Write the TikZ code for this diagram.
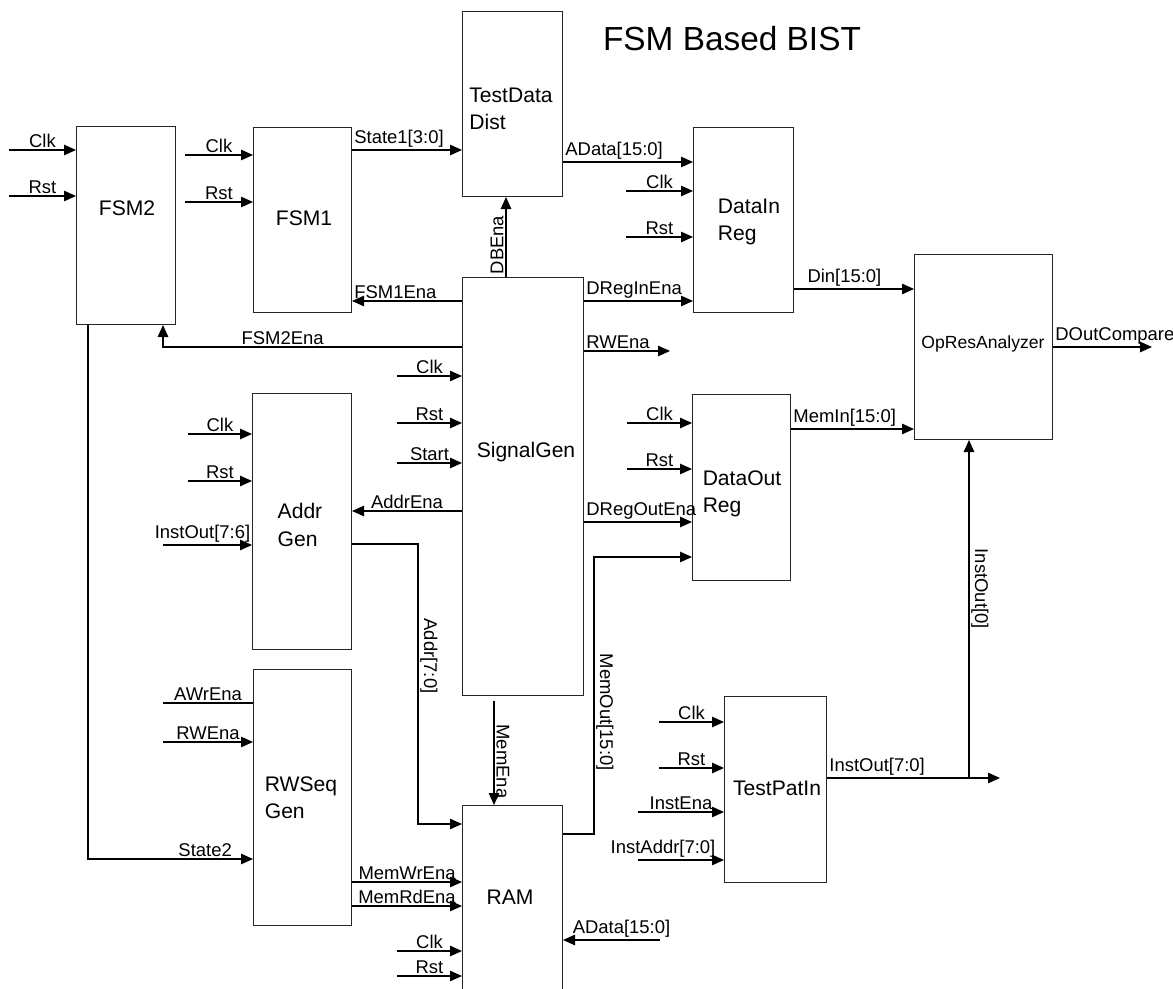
\documentclass[tikz,border=0pt]{standalone}
\usepackage{fontspec}
\setmainfont{Liberation Sans}
\usetikzlibrary{arrows.meta, positioning}

\tikzset{
   blk/.style={draw=black!85, line width=0.6pt, inner sep=0pt, anchor=north west},
   ttl/.style={font=\fontsize{12}{15.5}\selectfont, align=left, inner sep=0pt},
   wire/.style={line width=0.7pt},
   sig/.style={wire, -{Triangle[length=0.24cm, width=0.21cm]}},
   lbl/.style={font=\fontsize{10.5}{12}\selectfont, inner sep=1pt, above},
   outl/.style={lbl, pos=0, anchor=south west},
   vlbl/.style={font=\fontsize{10.5}{12}\selectfont, inner sep=1pt, anchor=south, rotate=-90}
}

\begin{document}
\begin{tikzpicture}[x=0.02cm, y=-0.02cm]
            \clip (0,0) rectangle (1173,989);
            % Title
            \node[font=\fontsize{19}{22}\selectfont] (title) at (732,39) {FSM Based BIST};
            % Blocks
            \node[blk, minimum width=1.98cm, minimum height=3.96cm] (fsm2) at (76,126) {};
            \node[blk, minimum width=1.96cm, minimum height=3.70cm] (fsm1) at (253,127) {};
            \node[blk, minimum width=2.00cm, minimum height=3.70cm] (tdd) at (462,11) {};
            \node[blk, minimum width=2.00cm, minimum height=3.70cm] (dinreg) at (693,127) {};
            \node[blk, minimum width=2.42cm, minimum height=8.36cm] (sgen) at (462,277) {};
            \node[blk, minimum width=1.98cm, minimum height=5.12cm] (addrgen) at (252,393) {};
            \node[blk, minimum width=1.96cm, minimum height=5.12cm] (rwseq) at (253,669) {};
            \node[blk, minimum width=2.00cm, minimum height=3.90cm] (ram) at (462,805) {};
            \node[blk, minimum width=1.96cm, minimum height=3.72cm] (doutreg) at (692,394) {};
            \node[blk, minimum width=2.76cm, minimum height=3.70cm] (opres) at (914,254) {};
            \node[blk, minimum width=2.04cm, minimum height=3.72cm] (tpin) at (724,696) {};
            % Block names
            \node[ttl] (fsm2t) at (127,208) {FSM2};
            \node[ttl] (fsm1t) at (304,218) {FSM1};
            \node[ttl] (tddt) at (511,109) {TestData\\Dist};
            \node[ttl] (dinregt) at (749,222) {DataIn\\Reg};
            \node[ttl] (sgent) at (526,452) {SignalGen};
            \node[ttl] (addrgent) at (300,525) {Addr\\Gen};
            \node[ttl] (rwseqt) at (301,798) {RWSeq\\Gen};
            \node[ttl] (ramt) at (510,897) {RAM};
            \node[ttl] (doutregt) at (742,494) {DataOut\\Reg};
            \node[ttl, font=\fontsize{10}{12}\selectfont] (oprest) at (983,344) {OpResAnalyzer};
            \node[ttl] (tpint) at (777,788) {TestPatIn};
            % Clock, reset and other inputs
            \coordinate (f2clk) at (9,150);   \draw[sig] (f2clk) -- (f2clk -| fsm2.west) node[lbl, midway] {Clk};
            \coordinate (f2rst) at (9,196);   \draw[sig] (f2rst) -- (f2rst -| fsm2.west) node[lbl, midway] {Rst};
            \coordinate (f1clk) at (185,155); \draw[sig] (f1clk) -- (f1clk -| fsm1.west) node[lbl, midway] {Clk};
            \coordinate (f1rst) at (185,202); \draw[sig] (f1rst) -- (f1rst -| fsm1.west) node[lbl, midway] {Rst};
            \coordinate (diclk) at (626,191); \draw[sig] (diclk) -- (diclk -| dinreg.west) node[lbl, midway] {Clk};
            \coordinate (dirst) at (626,237); \draw[sig] (dirst) -- (dirst -| dinreg.west) node[lbl, midway] {Rst};
            \coordinate (sgclk) at (397,376); \draw[sig] (sgclk) -- (sgclk -| sgen.west) node[lbl, midway] {Clk};
            \coordinate (sgrst) at (397,423); \draw[sig] (sgrst) -- (sgrst -| sgen.west) node[lbl, midway] {Rst};
            \coordinate (sgstart) at (397,463); \draw[sig] (sgstart) -- (sgstart -| sgen.west) node[lbl, midway] {Start};
            \coordinate (agclk) at (188,434); \draw[sig] (agclk) -- (agclk -| addrgen.west) node[lbl, midway] {Clk};
            \coordinate (agrst) at (188,481); \draw[sig] (agrst) -- (agrst -| addrgen.west) node[lbl, midway] {Rst};
            \coordinate (aginst) at (163,545); \draw[sig] (aginst) -- (aginst -| addrgen.west) node[lbl, midway, xshift=-0.1cm] {InstOut[7:6]};
            \coordinate (doclk) at (627,423); \draw[sig] (doclk) -- (doclk -| doutreg.west) node[lbl, midway] {Clk};
            \coordinate (dorst) at (627,469); \draw[sig] (dorst) -- (dorst -| doutreg.west) node[lbl, midway] {Rst};
            \coordinate (tpclk) at (659,722); \draw[sig] (tpclk) -- (tpclk -| tpin.west) node[lbl, midway] {Clk};
            \coordinate (tprst) at (659,768); \draw[sig] (tprst) -- (tprst -| tpin.west) node[lbl, midway] {Rst};
            \coordinate (tpena) at (638,812); \draw[sig] (tpena) -- (tpena -| tpin.west) node[lbl, midway] {InstEna};
            \coordinate (tpaddr) at (638,860); \draw[sig] (tpaddr) -- (tpaddr -| tpin.west) node[lbl, midway, xshift=-0.36cm] {InstAddr[7:0]};
            \coordinate (rwawr) at (163,703); \draw[wire] (rwawr) -- (rwawr -| rwseq.west) node[lbl, midway] {AWrEna};
            \coordinate (rwrw) at (163,742);  \draw[sig] (rwrw) -- (rwrw -| rwseq.west) node[lbl, midway] {RWEna};
            \coordinate (ramclk) at (397,951); \draw[sig] (ramclk) -- (ramclk -| ram.west) node[lbl, midway] {Clk};
            \coordinate (ramrst) at (397,976); \draw[sig] (ramrst) -- (ramrst -| ram.west) node[lbl, midway] {Rst};
            \coordinate (radat) at (660,940); \draw[sig] (radat) -- (radat -| ram.east) node[lbl, midway, xshift=0.2cm] {AData[15:0]};
            % FSM chain
            \coordinate (st1) at (0,150);
            \draw[sig] (st1 -| fsm1.east) -- (st1 -| tdd.west) node[outl] {State1[3:0]};
            \coordinate (adat) at (0,162);
            \draw[sig] (adat -| tdd.east) -- (adat -| dinreg.west) node[outl] {AData[15:0]};
            \coordinate (r301) at (0,301);
            \draw[sig] (r301 -| sgen.east) -- (r301 -| dinreg.west) node[outl] {DRegInEna};
            \draw[sig] (r301 -| sgen.west) -- (r301 -| fsm1.east) node[lbl, pos=1, anchor=south west] {FSM1Ena};
            \coordinate (dbx) at (506,0);
            \draw[sig] (dbx |- sgen.north) -- (dbx |- tdd.south)
               node[vlbl, pos=0.4, rotate=180] {DBEna};
            \coordinate (f2e) at (163,347);
            \draw[sig] (f2e -| sgen.west) -- (f2e) node[lbl, pos=0.6] {FSM2Ena} -- (f2e |- fsm2.south);
            \coordinate (s2) at (88,859);
            \draw[sig] (s2 |- fsm2.south) -- (s2) -- (s2 -| rwseq.west) node[lbl, pos=0.71] {State2};
            % SignalGen outputs
            \coordinate (aen) at (0,511);
            \draw[sig] (aen -| sgen.west) -- (aen -| addrgen.east) node[lbl, midway] {AddrEna};
            \coordinate (rwout) at (670,351);
            \draw[sig] (rwout -| sgen.east) -- (rwout) node[outl] {RWEna};
            \coordinate (droe) at (0,522);
            \draw[sig] (droe -| sgen.east) -- (droe -| doutreg.west) node[outl] {DRegOutEna};
            \coordinate (me) at (494,0);
            \draw[sig, shorten <=0.1cm] (me |- sgen.south) -- (me |- ram.north) node[vlbl, pos=0.6] {MemEna};
            % Address and memory data
            \coordinate (ad1) at (418,544);
            \coordinate (ad2) at (418,824);
            \draw[sig] (ad1 -| addrgen.east) -- (ad1) -- (ad2) node[vlbl, pos=0.4] {Addr[7:0]} -- (ad2 -| ram.west);
            \coordinate (mo1) at (594,834);
            \coordinate (mo2) at (594,557);
            \draw[sig] (mo1 -| ram.east) -- (mo1) -- (mo2) node[vlbl, pos=0.44] {MemOut[15:0]} -- (mo2 -| doutreg.west);
            \coordinate (mwr) at (0,882);
            \draw[sig] (mwr -| rwseq.east) -- (mwr -| ram.west) node[lbl, midway] {MemWrEna};
            \coordinate (mrd) at (0,906);
            \draw[sig] (mrd -| rwseq.east) -- (mrd -| ram.west) node[lbl, midway] {MemRdEna};
            % Result analysis
            \coordinate (din) at (0,289);
            \draw[sig] (din -| dinreg.east) -- (din -| opres.west) node[lbl, pos=0.42] {Din[15:0]};
            \coordinate (memin) at (0,429);
            \draw[sig] (memin -| doutreg.east) -- (memin -| opres.west) node[outl] {MemIn[15:0]};
            \coordinate (dout) at (1152,347);
            \draw[sig] (dout -| opres.east) -- (dout) node[outl] {DOutCompare};
            \coordinate (io) at (1000,778);
            \coordinate (junc) at (969,778);
            \draw[sig] (io -| tpin.east) -- (io) node[outl] {InstOut[7:0]};
            \draw[sig] (junc) -- (junc |- opres.south) node[vlbl, pos=0.56] {InstOut[0]};
\end{tikzpicture}
\end{document}
